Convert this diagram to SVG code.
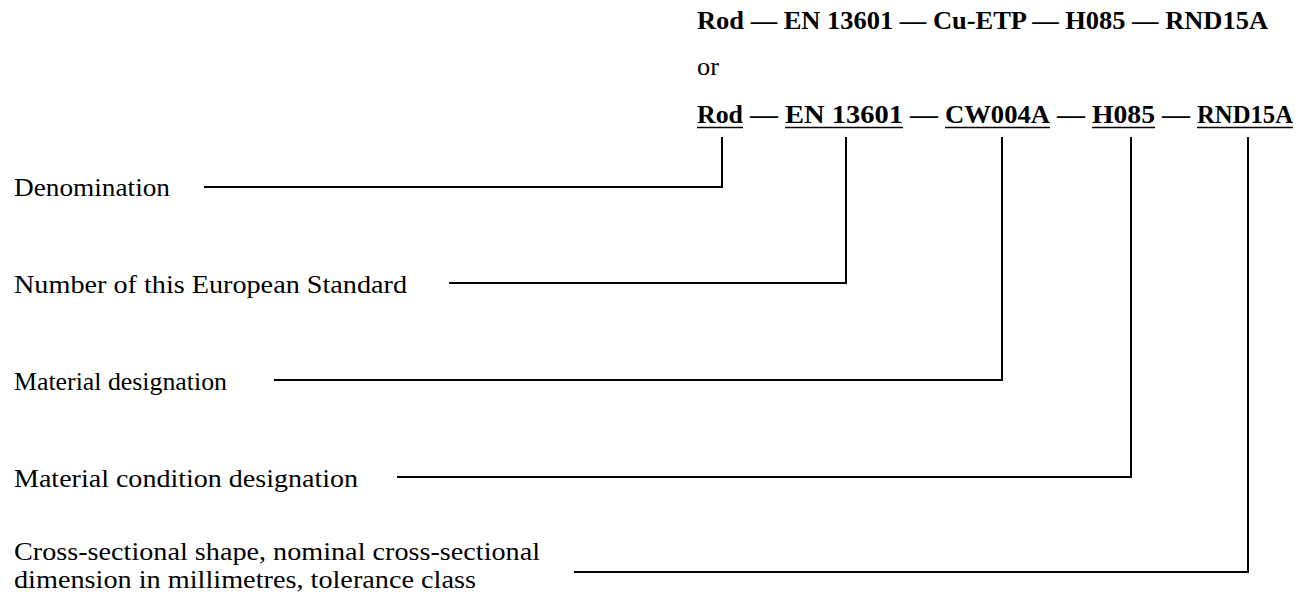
<svg xmlns="http://www.w3.org/2000/svg" width="1309" height="603" viewBox="0 0 1309 603">
<style>
.t{font-family:"Liberation Serif","Times New Roman",serif;font-size:25px;fill:#000}
.b{font-weight:bold}
.c{fill:none;stroke:#000;stroke-width:2;stroke-linecap:square;stroke-linejoin:miter}
.u{stroke:#000;stroke-width:1.6}
</style>
<rect width="1309" height="603" fill="#fff"/>
<g id="designation">
<text class="t b" x="697" y="29" textLength="571" lengthAdjust="spacingAndGlyphs">Rod — EN 13601 — Cu-ETP — H085 — RND15A</text>
<text class="t" x="697" y="75" textLength="22" lengthAdjust="spacingAndGlyphs">or</text>
<g id="coded">
<text class="t b" x="697" y="123" textLength="46" lengthAdjust="spacingAndGlyphs">Rod</text>
<text class="t b" x="750" y="123" textLength="28" lengthAdjust="spacingAndGlyphs">—</text>
<text class="t b" x="785" y="123" textLength="118" lengthAdjust="spacingAndGlyphs">EN 13601</text>
<text class="t b" x="910" y="123" textLength="28" lengthAdjust="spacingAndGlyphs">—</text>
<text class="t b" x="945" y="123" textLength="105" lengthAdjust="spacingAndGlyphs">CW004A</text>
<text class="t b" x="1057" y="123" textLength="28" lengthAdjust="spacingAndGlyphs">—</text>
<text class="t b" x="1092" y="123" textLength="63" lengthAdjust="spacingAndGlyphs">H085</text>
<text class="t b" x="1162" y="123" textLength="28" lengthAdjust="spacingAndGlyphs">—</text>
<text class="t b" x="1197" y="123" textLength="96" lengthAdjust="spacingAndGlyphs">RND15A</text>
<line class="u" x1="697" y1="127.5" x2="743" y2="127.5"/>
<line class="u" x1="785" y1="127.5" x2="903" y2="127.5"/>
<line class="u" x1="945" y1="127.5" x2="1050" y2="127.5"/>
<line class="u" x1="1092" y1="127.5" x2="1155" y2="127.5"/>
<line class="u" x1="1197" y1="127.5" x2="1293" y2="127.5"/>
</g>
</g>
<g id="label-denomination"><text class="t" x="14" y="196" textLength="156" lengthAdjust="spacingAndGlyphs">Denomination</text></g>
<g id="label-number"><text class="t" x="14" y="293" textLength="393" lengthAdjust="spacingAndGlyphs">Number of this European Standard</text></g>
<g id="label-material"><text class="t" x="14" y="390" textLength="213" lengthAdjust="spacingAndGlyphs">Material designation</text></g>
<g id="label-condition"><text class="t" x="14" y="487" textLength="344" lengthAdjust="spacingAndGlyphs">Material condition designation</text></g>
<g id="label-shape">
<text class="t" x="14" y="560" textLength="526" lengthAdjust="spacingAndGlyphs">Cross-sectional shape, nominal cross-sectional</text>
<text class="t" x="14" y="588" textLength="462" lengthAdjust="spacingAndGlyphs">dimension in millimetres, tolerance class</text>
</g>
<g id="connectors">
<polyline class="c" points="205,187 722,187 722,138"/>
<polyline class="c" points="450,283 846,283 846,138"/>
<polyline class="c" points="275,380 1002,380 1002,138"/>
<polyline class="c" points="398,477 1131,477 1131,138"/>
<polyline class="c" points="575,572 1248,572 1248,138"/>
</g>
</svg>
